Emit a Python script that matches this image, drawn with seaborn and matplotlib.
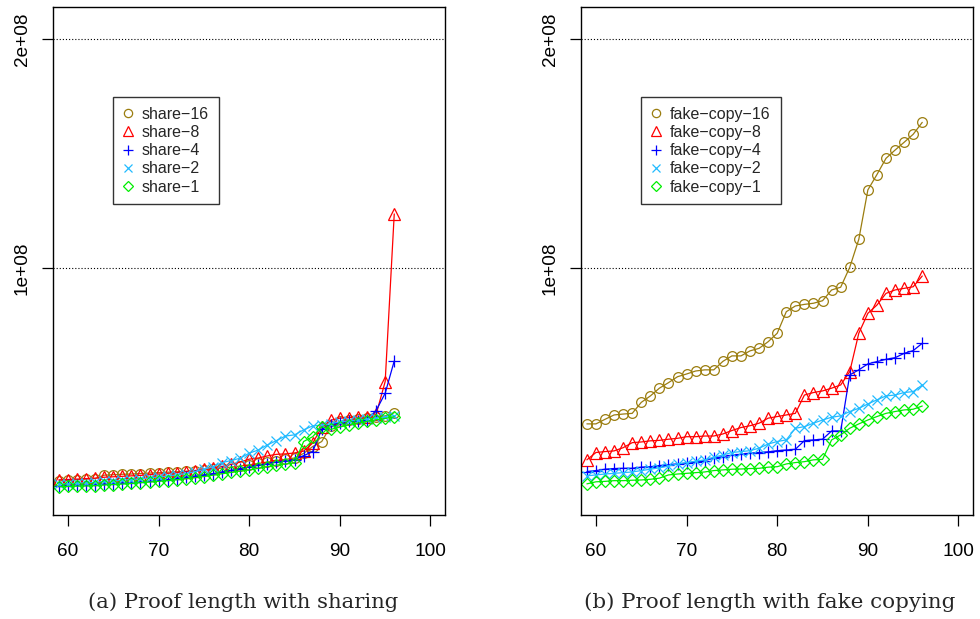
import numpy as np
import pandas as pd
import matplotlib
matplotlib.use("Agg")
import matplotlib.pyplot as plt
from matplotlib.lines import Line2D
import seaborn as sns

sns.set_style("white")
plt.rcParams['font.family'] = ['Liberation Sans', 'DejaVu Sans']

# ---------------- data (values in millions) ----------------
sizes = list(range(59, 97))

share_16 = [7.0, 7.2, 7.5, 7.8, 8.0, 9.5, 9.7, 9.9, 10.0, 10.2, 10.4, 10.6, 10.8, 11.0, 11.2, 11.5, 11.8, 12.2, 12.6,
            13.0, 13.5, 14.0, 14.6, 15.2, 15.8, 16.4, 17.0, 19.0, 22.0, 24.2, 31.0, 33.0, 33.5, 34.0, 34.5, 35.0, 35.4, 36.8]
share_8 = [7.5, 7.6, 7.8, 8.0, 8.2, 8.6, 8.8, 9.0, 9.2, 9.4, 9.7, 10.0, 10.3, 10.6, 11.0, 11.5, 12.0, 12.6, 13.3,
           14.2, 15.2, 16.5, 17.0, 17.9, 18.6, 18.8, 19.2, 20.0, 23.5, 30.5, 33.5, 34.4, 34.6, 34.8, 35.0, 36.0, 50.4, 123.6]
share_4 = [4.8, 5.0, 5.1, 5.2, 5.3, 5.6, 5.8, 6.0, 6.2, 6.5, 6.8, 7.2, 7.6, 8.0, 8.5, 9.0, 9.6, 10.2, 10.9,
           11.6, 12.4, 13.1, 13.8, 14.5, 15.2, 15.8, 16.3, 18.0, 19.8, 29.5, 31.5, 32.5, 33.0, 33.3, 33.7, 37.7, 45.3, 59.4]
share_2 = [5.6, 5.8, 6.0, 6.2, 6.4, 6.8, 7.0, 7.3, 7.6, 7.9, 8.3, 8.7, 9.1, 9.6, 10.2, 11.0, 12.0, 13.2, 15.0,
           15.9, 16.9, 19.1, 20.5, 22.7, 24.6, 26.6, 27.1, 29.3, 31.0, 31.4, 32.0, 32.8, 33.2, 33.6, 34.0, 34.4, 34.8, 35.5]
share_1 = [4.5, 4.6, 4.7, 4.8, 4.9, 5.2, 5.4, 5.6, 5.9, 6.2, 6.5, 6.8, 7.1, 7.5, 7.9, 8.4, 8.9, 9.5, 10.1,
           10.7, 11.3, 11.8, 12.5, 13.2, 13.9, 14.4, 14.8, 24.2, 26.3, 30.7, 29.5, 30.5, 31.5, 32.3, 33.0, 33.7, 34.3, 35.0]

fake_16 = [31.9, 31.9, 33.9, 35.8, 36.2, 36.5, 41.3, 44.1, 47.5, 49.9, 52.5, 53.7, 55.0, 55.5, 55.5, 59.2, 61.6, 61.6, 63.8,
           64.9, 67.8, 71.5, 80.9, 83.4, 84.1, 84.6, 85.7, 90.4, 91.6, 100.3, 112.5, 134.1, 140.8, 147.9, 151.5, 154.9, 158.4, 163.6]
fake_8 = [16.2, 19.4, 19.8, 20.1, 21.5, 23.7, 24.0, 24.5, 24.7, 25.2, 25.6, 26.3, 26.3, 26.6, 26.6, 27.5, 29.0, 30.3, 31.1,
          32.2, 34.4, 35.1, 35.8, 36.5, 44.5, 45.6, 46.3, 47.5, 48.9, 54.7, 71.5, 80.2, 83.8, 88.9, 90.4, 91.1, 91.8, 96.5]
fake_4 = [11.1, 11.5, 12.1, 12.4, 12.5, 12.5, 13.0, 13.2, 13.7, 14.1, 14.4, 14.7, 15.3, 15.9, 16.9, 17.6, 18.2, 18.6, 19.1,
          19.4, 19.7, 20.2, 20.5, 20.8, 24.6, 24.9, 25.2, 28.8, 28.8, 53.3, 55.5, 58.1, 59.1, 60.1, 60.8, 62.7, 63.9, 67.1]
fake_2 = [9.2, 9.6, 10.0, 10.3, 10.6, 10.9, 11.5, 12.1, 12.7, 13.5, 14.4, 15.0, 15.6, 16.2, 17.3, 18.3, 19.4, 19.8, 20.2,
          21.3, 23.1, 24.2, 24.9, 30.0, 30.7, 32.2, 33.6, 34.8, 35.4, 37.3, 38.7, 40.6, 42.4, 44.1, 44.5, 45.6, 46.0, 48.9]
fake_1 = [5.7, 6.6, 6.8, 7.1, 7.1, 7.3, 7.4, 7.7, 8.2, 9.6, 10.0, 10.3, 10.6, 10.9, 11.5, 11.8, 12.1, 12.2, 12.4,
          12.5, 13.0, 13.2, 14.4, 15.0, 15.4, 16.2, 16.4, 24.9, 27.1, 30.0, 31.9, 33.6, 35.1, 36.5, 37.3, 38.0, 38.3, 39.7]

share_labels = ["share\u221216", "share\u22128", "share\u22124", "share\u22122", "share\u22121"]
fake_labels = ["fake\u2212copy\u221216", "fake\u2212copy\u22128", "fake\u2212copy\u22124",
               "fake\u2212copy\u22122", "fake\u2212copy\u22121"]
x_ticks = [60, 70, 80, 90, 100]
y_ticks = [1e8, 2e8]
y_tick_labels = ["1e+08", "2e+08"]
captions = ["(a) Proof length with sharing", "(b) Proof length with fake copying"]

colors = ["#9B7D0F", "#FF0000", "#0000FF", "#22BBFF", "#00EE00"]
markers = ["o", "^", "+", "x", "D"]
msizes = [7.0, 8.2, 8.0, 6.5, 5.8]

W, H = 980, 619
fig = plt.figure(figsize=(W / 100, H / 100), dpi=100)

def px_axes(x0, x1, y0, y1):
    return fig.add_axes([x0 / W, 1 - y1 / H, (x1 - x0) / W, (y1 - y0) / H])

ax_l = px_axes(53, 445, 7, 515)
ax_r = px_axes(581, 973, 7, 515)

panels = [
    (ax_l, [share_16, share_8, share_4, share_2, share_1], share_labels),
    (ax_r, [fake_16, fake_8, fake_4, fake_2, fake_1], fake_labels),
]

for ax, series, labels in panels:
    for vals, lab, c, m, ms in zip(series, labels, colors, markers, msizes):
        df = pd.DataFrame({"size": sizes, "len": np.array(vals) * 1e6})
        sns.lineplot(data=df, x="size", y="len", ax=ax, color=c, marker=m,
                     markersize=ms, linewidth=0.9, legend=False)
    for ln in ax.lines:
        ln.set_markerfacecolor("none")
        ln.set_markeredgecolor(ln.get_color())
        ln.set_markeredgewidth(0.9)
    for yv in y_ticks:
        ax.axhline(yv, color="black", lw=0.8, ls=(0, (1, 1.8)), zorder=0)
    ax.set_xlim(58.35, 101.6)
    ax.set_ylim(-7.9e6, 214e6)
    ax.set_xticks(x_ticks)
    ax.set_xticklabels([str(t) for t in x_ticks])
    ax.set_yticks(y_ticks)
    ax.set_yticklabels(y_tick_labels, rotation=90, va="center")
    ax.set_xlabel("")
    ax.set_ylabel("")
    ax.tick_params(axis="both", direction="out", length=8, width=0.9, color="black",
                   labelsize=13.7, labelcolor="black")
    ax.tick_params(axis="x", pad=12)
    ax.tick_params(axis="y", pad=8)
    ax.tick_params(bottom=True, left=True, top=False, right=False)
    for sp in ax.spines.values():
        sp.set_color("black")
        sp.set_linewidth(1.0)
        sp.set_visible(True)
    handles = [Line2D([], [], linestyle="none", marker=m, markersize=ms * 0.85, color=c,
                      markerfacecolor="none", markeredgecolor=c, markeredgewidth=0.9)
               for c, m, ms in zip(colors, markers, msizes)]
    leg = ax.legend(handles, labels, loc="upper left", bbox_to_anchor=(0.153, 0.823),
                    borderaxespad=0, frameon=True, fancybox=False, edgecolor="black",
                    fontsize=11.5, handlelength=0.6, handletextpad=0.6, labelspacing=0.2,
                    borderpad=0.62)
    leg.get_frame().set_linewidth(1.0)

fig.text(243 / W, 1 - 602 / H, captions[0], ha="center", va="center",
         fontsize=15.2, family=["DejaVu Serif"])
fig.text(770 / W, 1 - 602 / H, captions[1], ha="center", va="center",
         fontsize=15.4, family=["DejaVu Serif"])

fig.savefig("out.png", dpi=100)
